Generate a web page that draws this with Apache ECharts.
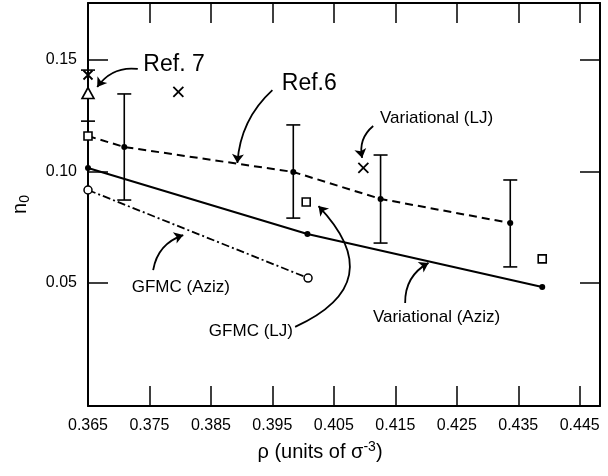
<!DOCTYPE html>
<html>
<head>
<meta charset="utf-8">
<script src="https://cdn.jsdelivr.net/npm/echarts@6/dist/echarts.min.js"></script>
<style>html,body{margin:0;padding:0;background:#fff;}#c{width:608px;height:476px;}</style>
</head>
<body>
<div id="c"></div>
<script>
// ---- data (rho in units of sigma^-3, n0) ----
const varAzizRho = [0.365, 0.4007, 0.4389];
const varAzizN0  = [0.1016, 0.0720, 0.0482];

const gfmcAzizRho = [0.365, 0.4008];
const gfmcAzizN0  = [0.0917, 0.0522];

const gfmcLJRho = [0.365, 0.4005, 0.4389];
const gfmcLJN0  = [0.1159, 0.0863, 0.0608];

const ref6LineRho = [0.365, 0.3709, 0.3984, 0.4126, 0.4337];
const ref6LineN0  = [0.1159, 0.1110, 0.0998, 0.0877, 0.0769];

const ref6Rho = [0.3709, 0.3984, 0.4126, 0.4337];
const ref6N0  = [0.1110, 0.0998, 0.0877, 0.0769];
const ref6Lo  = [0.0872, 0.0791, 0.0679, 0.0572];
const ref6Hi  = [0.1348, 0.1209, 0.1074, 0.0962];

const ref7TriRho = [0.365];
const ref7TriN0  = [0.1352];
const ref7Lo     = [0.1226];
const ref7Hi     = [0.1455];
const ref7CrossRho = [0.365];
const ref7CrossN0  = [0.1433];

const varLJRho = [0.3797, 0.4098];
const varLJN0  = [0.1357, 0.1016];

const xTickValues  = [0.375, 0.385, 0.395, 0.405, 0.415, 0.425, 0.435, 0.445];
const xLabelValues = [0.365, 0.375, 0.385, 0.395, 0.405, 0.415, 0.425, 0.435, 0.445];
const yTickValues  = [0.05, 0.10, 0.15];

// annotations (in data coordinates)
const annoText = ['Ref. 7', 'Ref.6', 'Variational (LJ)', 'Variational (Aziz)', 'GFMC (Aziz)', 'GFMC (LJ)'];
const annoRho  = [0.3790, 0.4010, 0.4217, 0.4217, 0.3801, 0.3915];
const annoN0   = [0.1478, 0.1392, 0.1240, 0.0348, 0.0482, 0.0285];

const arrowFromRho = [0.3731, 0.3950, 0.4114, 0.4166, 0.3756, 0.3987];
const arrowFromN0  = [0.1460, 0.1365, 0.1204, 0.0410, 0.0558, 0.0303];
const arrowToRho   = [0.3665, 0.3893, 0.4096, 0.4204, 0.3805, 0.4025];
const arrowToN0    = [0.1379, 0.1038, 0.1061, 0.0590, 0.0715, 0.0845];
const arrowCurve   = [-0.3, -0.2, -0.3, 0.3, 0.3, -0.7];

// ---- build ----
const zip = (a, b) => a.map((v, i) => [v, b[i]]);
const FONT = '"Liberation Sans", Arial, Helvetica, sans-serif';
const INK = '#000';

const errRenderer = (params, api) => {
  const x = api.value(0);
  const pHi = api.coord([x, api.value(2)]);
  const pLo = api.coord([x, api.value(1)]);
  const hw = 7;
  const st = { stroke: INK, lineWidth: 1.6 };
  return {
    type: 'group',
    children: [
      { type: 'line', shape: { x1: pHi[0], y1: pHi[1], x2: pLo[0], y2: pLo[1] }, style: st },
      { type: 'line', shape: { x1: pHi[0] - hw, y1: pHi[1], x2: pHi[0] + hw, y2: pHi[1] }, style: st },
      { type: 'line', shape: { x1: pLo[0] - hw, y1: pLo[1], x2: pLo[0] + hw, y2: pLo[1] }, style: st }
    ]
  };
};

const xMin = 0.365, xMax = 0.4483, yMin = -0.0052, yMax = 0.1756;

const baseX = {
  type: 'value', min: xMin, max: xMax,
  axisLine: { show: true, onZero: false, lineStyle: { color: INK, width: 2 } },
  splitLine: { show: false },
  axisTick: { show: true, inside: true, length: 20, lineStyle: { color: INK, width: 1.5 }, customValues: xTickValues }
};
const baseY = {
  type: 'value', min: yMin, max: yMax,
  axisLine: { show: true, onZero: false, lineStyle: { color: INK, width: 2 } },
  splitLine: { show: false },
  axisTick: { show: true, inside: true, length: 20, lineStyle: { color: INK, width: 1.5 }, customValues: yTickValues }
};

const option = {
  backgroundColor: '#fff',
  animation: false,
  grid: { left: 88, right: 8, top: 3, bottom: 70, containLabel: false, outerBoundsMode: 'none' },
  xAxis: [
    Object.assign({}, baseX, {
      position: 'bottom',
      axisLabel: { show: true, customValues: xLabelValues, margin: 12, fontFamily: FONT, fontSize: 16, color: INK,
                   formatter: v => v.toFixed(3) },
      name: '{a|\u03c1 (units of \u03c3}{s|-3}{a|)}',
      nameLocation: 'middle', nameGap: 34,
      nameTextStyle: {
        padding: [0, 48, 0, 0],
        rich: {
          a: { fontFamily: FONT, fontSize: 20, color: INK, lineHeight: 24 },
          s: { fontFamily: FONT, fontSize: 14, color: INK, verticalAlign: 'top', lineHeight: 24, padding: [0, 0, 8, 0] }
        }
      }
    }),
    Object.assign({}, baseX, { position: 'top', axisLabel: { show: false } })
  ],
  yAxis: [
    Object.assign({}, baseY, {
      position: 'left',
      axisLabel: { show: true, customValues: yTickValues, margin: 11, fontFamily: FONT, fontSize: 16, color: INK,
                   padding: [0, 0, 8, 0], formatter: v => v.toFixed(2) },
      name: '{n|n}{s|0}',
      nameLocation: 'middle', nameRotate: 90, nameGap: 56,
      nameTextStyle: {
        rich: {
          n: { fontFamily: FONT, fontSize: 20, color: INK, lineHeight: 24 },
          s: { fontFamily: FONT, fontSize: 14, color: INK, verticalAlign: 'bottom', lineHeight: 24, padding: [6, 0, 0, 0] }
        }
      }
    }),
    Object.assign({}, baseY, { position: 'right', axisLabel: { show: false } })
  ],
  series: [
    {
      name: 'Variational (Aziz)', type: 'line', data: zip(varAzizRho, varAzizN0),
      lineStyle: { color: INK, width: 2 }, symbol: 'circle', symbolSize: 6,
      itemStyle: { color: INK, opacity: 1 }, z: 3
    },
    {
      name: 'Ref. 6 fit', type: 'line', data: zip(ref6LineRho, ref6LineN0),
      lineStyle: { color: INK, width: 2, type: [8, 5] }, showSymbol: false, symbol: 'none', z: 3
    },
    {
      name: 'GFMC (Aziz)', type: 'line', data: zip(gfmcAzizRho, gfmcAzizN0),
      lineStyle: { color: INK, width: 1.8, type: [8, 3, 2, 3] }, symbol: 'circle', symbolSize: 8,
      itemStyle: { color: '#fff', borderColor: INK, borderWidth: 1.5, opacity: 1 }, z: 4
    },
    {
      name: 'Ref. 6 error', type: 'custom', renderItem: errRenderer,
      data: ref6Rho.map((r, i) => [r, ref6Lo[i], ref6Hi[i]]), z: 4
    },
    {
      name: 'Ref. 7 error', type: 'custom', renderItem: errRenderer,
      data: ref7TriRho.map((r, i) => [r, ref7Lo[i], ref7Hi[i]]), z: 4
    },
    {
      name: 'Ref. 6', type: 'scatter', data: zip(ref6Rho, ref6N0), symbol: 'circle', symbolSize: 6,
      itemStyle: { color: INK, opacity: 1 }, z: 5
    },
    {
      name: 'GFMC (LJ)', type: 'scatter', data: zip(gfmcLJRho, gfmcLJN0), symbol: 'rect', symbolSize: 8,
      itemStyle: { color: '#fff', borderColor: INK, borderWidth: 1.6, opacity: 1 }, z: 6
    },
    {
      name: 'Ref. 7', type: 'scatter', data: zip(ref7TriRho, ref7TriN0), symbol: 'triangle', symbolSize: [12, 11],
      itemStyle: { color: '#fff', borderColor: INK, borderWidth: 1.6, opacity: 1 }, z: 6
    },
    {
      name: 'Ref. 7 x', type: 'scatter', data: zip(ref7CrossRho, ref7CrossN0),
      symbol: 'path://M0,0L10,10M10,0L0,10', symbolSize: 9,
      itemStyle: { color: 'rgba(0,0,0,0)', borderColor: INK, borderWidth: 1.8, opacity: 1 }, z: 6
    },
    {
      name: 'Variational (LJ)', type: 'scatter', data: zip(varLJRho, varLJN0),
      symbol: 'path://M0,0L10,10M10,0L0,10', symbolSize: 10,
      itemStyle: { color: 'rgba(0,0,0,0)', borderColor: INK, borderWidth: 1.8, opacity: 1 }, z: 6
    },
    {
      name: 'arrows', type: 'lines', coordinateSystem: 'cartesian2d',
      symbol: ['none', 'arrow'], symbolSize: 9,
      data: arrowFromRho.map((r, i) => ({
        coords: [[r, arrowFromN0[i]], [arrowToRho[i], arrowToN0[i]]],
        lineStyle: { curveness: arrowCurve[i] }
      })),
      lineStyle: { color: INK, width: 1.8, opacity: 1 }, z: 7
    },
    {
      name: 'labels', type: 'scatter', symbolSize: 0, z: 8,
      itemStyle: { color: INK, opacity: 1 },
      data: annoText.map((t, i) => ({ value: [annoRho[i], annoN0[i]], name: t })),
      label: {
        show: true, position: 'inside', color: INK, fontFamily: FONT, opacity: 1,
        textBorderWidth: 0, textBorderColor: 'transparent',
        formatter: p => p.name.startsWith('Ref') ? '{big|' + p.name + '}' : '{sm|' + p.name + '}',
        rich: {
          big: { fontSize: 23, fontFamily: FONT, color: INK, textBorderWidth: 0 },
          sm: { fontSize: 17, fontFamily: FONT, color: INK, textBorderWidth: 0 }
        }
      }
    }
  ]
};

const chart = echarts.init(document.getElementById('c'), null, { renderer: 'canvas' });
chart.setOption(option);
</script>
</body>
</html>
